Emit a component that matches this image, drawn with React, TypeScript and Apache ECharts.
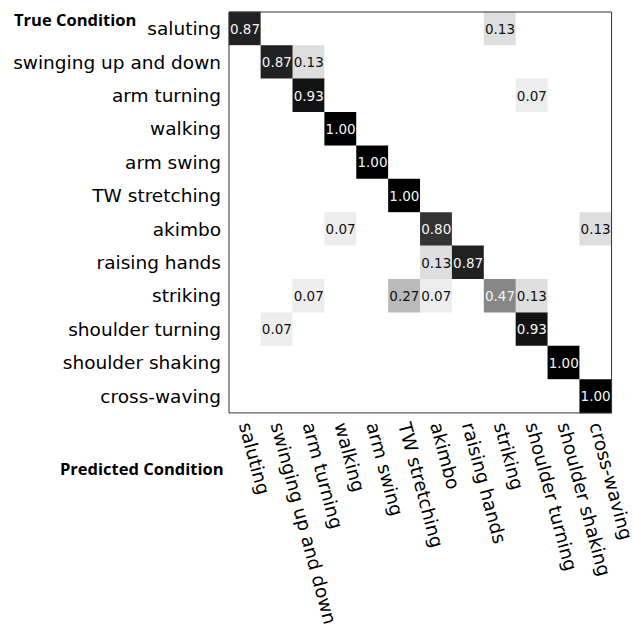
import React, { useEffect, useRef } from "react";
import * as echarts from "echarts";

// Action classes, shared by both axes (true on y, predicted on x)
const classes = [
  "saluting",
  "swinging up and down",
  "arm turning",
  "walking",
  "arm swing",
  "TW stretching",
  "akimbo",
  "raising hands",
  "striking",
  "shoulder turning",
  "shoulder shaking",
  "cross-waving",
];

// Normalised confusion matrix rows: [predicted index, rate] for non-zero cells
const rowSaluting = [[0, 0.87], [8, 0.13]];
const rowSwinging = [[1, 0.87], [2, 0.13]];
const rowArmTurning = [[2, 0.93], [9, 0.07]];
const rowWalking = [[3, 1.0]];
const rowArmSwing = [[4, 1.0]];
const rowTWStretching = [[5, 1.0]];
const rowAkimbo = [[3, 0.07], [6, 0.8], [11, 0.13]];
const rowRaisingHands = [[6, 0.13], [7, 0.87]];
const rowStriking = [[2, 0.07], [5, 0.27], [6, 0.07], [8, 0.47], [9, 0.13]];
const rowShoulderTurning = [[1, 0.07], [9, 0.93]];
const rowShoulderShaking = [[10, 1.0]];
const rowCrossWaving = [[11, 1.0]];

const rows = [
  rowSaluting,
  rowSwinging,
  rowArmTurning,
  rowWalking,
  rowArmSwing,
  rowTWStretching,
  rowAkimbo,
  rowRaisingHands,
  rowStriking,
  rowShoulderTurning,
  rowShoulderShaking,
  rowCrossWaving,
];

const FONT = "'DejaVu Sans', sans-serif";

export default function App() {
  const ref = useRef<HTMLDivElement>(null);

  useEffect(() => {
    if (!ref.current) return;
    const chart = echarts.init(ref.current, null, { renderer: "svg" });

    const data: any[] = [];
    rows.forEach((row, r) => {
      const filled = new Map<number, number>();
      row.forEach(([c, v]) => filled.set(c, v));
      for (let c = 0; c < classes.length; c++) {
        const v = filled.get(c) ?? 0;
        data.push({
          value: [c, r, v],
          label: {
            show: v > 0,
            color: v > 0.4 ? "#f4f4f4" : "#111111",
          },
        });
      }
    });

    chart.setOption({
      animation: false,
      backgroundColor: "#ffffff",
      grid: {
        left: 229,
        top: 12,
        width: 402,
        height: 402,
        show: true,
        borderColor: "#333333",
        borderWidth: 1,
        backgroundColor: "transparent",
        z: 10,
      },
      xAxis: {
        type: "category",
        data: classes,
        position: "bottom",
        axisLine: { show: false },
        axisTick: { show: false },
        splitLine: { show: false },
        axisLabel: {
          interval: 0,
          rotate: -75,
          margin: 10,
          fontSize: 18.5,
          fontFamily: FONT,
          color: "#000000",
        },
      },
      yAxis: {
        type: "category",
        data: classes,
        inverse: true,
        axisLine: { show: false },
        axisTick: { show: false },
        splitLine: { show: false },
        axisLabel: {
          interval: 0,
          margin: 8,
          fontSize: 18.5,
          fontFamily: FONT,
          color: "#000000",
        },
      },
      visualMap: {
        show: false,
        type: "continuous",
        min: 0,
        max: 1,
        dimension: 2,
        inRange: { color: ["#ffffff", "#000000"] },
      },
      series: [
        {
          type: "heatmap",
          data,
          label: {
            show: true,
            fontSize: 13.5,
            fontFamily: FONT,
            formatter: (p: any) => (p.value[2] > 0 ? p.value[2].toFixed(2) : ""),
          },
          itemStyle: { borderWidth: 0 },
          emphasis: { disabled: true },
        },
      ],
      graphic: [
        {
          type: "text",
          left: 14,
          top: 11,
          style: {
            text: "True Condition",
            font: "bold 16.5px 'Open Sans', sans-serif",
            fill: "#000000",
          },
        },
        {
          type: "text",
          left: 60,
          top: 460,
          style: {
            text: "Predicted Condition",
            font: "bold 16.5px 'Open Sans', sans-serif",
            fill: "#000000",
          },
        },
      ],
    });

    return () => chart.dispose();
  }, []);

  return (
    <div
      ref={ref}
      style={{ position: "fixed", left: 0, top: 0, width: 636, height: 629 }}
    />
  );
}
